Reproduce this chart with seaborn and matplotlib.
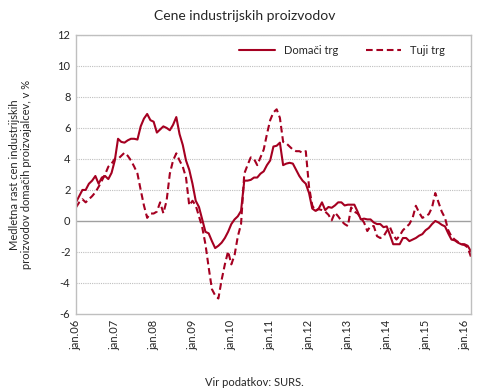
import numpy as np
import pandas as pd
import matplotlib
matplotlib.use("Agg")
import matplotlib.pyplot as plt
import seaborn as sns

# monthly y/y growth of industrial producer prices, jan.06 - mar.16
domaci = [
    1.2, 1.6, 2.0, 2.0, 2.4, 2.6, 2.9, 2.4, 2.8, 2.9, 2.7, 3.1,
    3.9, 5.3, 5.1, 5.05, 5.2, 5.3, 5.3, 5.25, 6.1, 6.6, 6.9, 6.5,
    6.4, 5.7, 5.9, 6.1, 6.0, 5.85, 6.2, 6.7, 5.6, 4.9, 3.9, 3.3,
    2.4, 1.3, 0.9, 0.1, -0.7, -0.8, -1.3, -1.75, -1.6, -1.4, -1.1, -0.7,
    -0.2, 0.1, 0.3, 0.65, 2.6, 2.6, 2.65, 2.8, 2.8, 3.05, 3.2, 3.6,
    3.9, 4.8, 4.85, 5.05, 3.6, 3.7, 3.75, 3.7, 3.3, 2.9, 2.6, 2.4,
    1.8, 0.8, 0.65, 0.8, 1.2, 0.7, 0.9, 0.85, 1.0, 1.2, 1.2, 1.0,
    1.05, 1.05, 1.05, 0.6, 0.1, 0.15, 0.1, 0.1, -0.1, -0.2, -0.2, -0.4,
    -0.35, -0.9, -1.5, -1.5, -1.5, -1.1, -1.1, -1.3, -1.2, -1.1, -0.95, -0.85,
    -0.6, -0.45, -0.2, 0.0, -0.1, -0.25, -0.35, -0.8, -1.2, -1.25, -1.4, -1.5,
    -1.5, -1.6, -1.95,
]
tuji = [
    0.87, 1.2, 1.4, 1.2, 1.4, 1.6, 1.85, 2.2, 2.6, 3.0, 3.5, 3.7,
    4.0, 4.0, 4.2, 4.4, 4.2, 3.9, 3.5, 3.05, 2.0, 1.0, 0.2, 0.48,
    0.48, 0.6, 1.2, 0.5, 1.3, 3.05, 3.9, 4.36, 3.9, 3.5, 2.8, 1.0,
    1.3, 1.0, 0.3, -0.4, -1.5, -3.0, -4.4, -4.8, -5.0, -3.8, -2.8, -1.96,
    -2.8, -2.2, -1.0, -0.2, 3.05, 3.6, 4.1, 4.0, 3.6, 4.1, 4.6, 5.6,
    6.5, 7.0, 7.2, 6.65, 5.1, 5.0, 4.8, 4.6, 4.5, 4.5, 4.4, 4.5,
    2.2, 1.0, 0.65, 0.76, 0.7, 0.6, 0.4, 0.04, 0.54, 0.3, 0.0, -0.2,
    -0.33, 0.87, 0.6, 0.48, 0.2, -0.1, -0.65, -0.33, -0.33, -0.98, -1.1, -1.0,
    -0.65, -0.4, -0.9, -1.2, -0.95, -0.6, -0.4, -0.2, 0.2, 0.98, 0.54, 0.2,
    0.3, 0.44, 0.87, 1.8, 1.2, 0.6, 0.2, -0.6, -1.0, -1.2, -1.35, -1.5,
    -1.55, -1.7, -2.3,
]
series_names = ["Domači trg", "Tuji trg"]
tick_labels = ["jan.06", "jan.07", "jan.08", "jan.09", "jan.10", "jan.11",
               "jan.12", "jan.13", "jan.14", "jan.15", "jan.16"]

RED = "#A50021"

df = pd.DataFrame({
    "mesec": list(range(len(domaci))) * 2,
    "rast": domaci + tuji,
    "trg": [series_names[0]] * len(domaci) + [series_names[1]] * len(tuji),
})

sns.set_style("white")
plt.rcParams["font.family"] = ["Lato", "DejaVu Sans"]

fig, ax = plt.subplots(figsize=(4.9, 3.92), dpi=100)
fig.subplots_adjust(left=0.155, right=0.961, top=0.911, bottom=0.199)

sns.lineplot(
    data=df, x="mesec", y="rast", hue="trg", style="trg",
    palette={series_names[0]: RED, series_names[1]: RED},
    dashes={series_names[0]: "", series_names[1]: (3.2, 1.8)},
    linewidth=1.5, ax=ax,
)

ax.set_xlim(0, len(domaci) - 1)
ax.set_ylim(-6, 12)
ax.set_yticks(np.arange(-6, 13, 2))
ax.set_yticklabels([str(v) for v in range(-6, 13, 2)], fontsize=8)
ax.set_xticks(np.arange(0, 121, 12))
ax.set_xticklabels(tick_labels, rotation=90, fontsize=8)
ax.tick_params(axis="both", length=0, pad=4)

for v in range(-4, 13, 2):
    if v == 0:
        ax.axhline(0, color="#A0A0A0", lw=1.0, zorder=0)
    else:
        ax.axhline(v, color="#BFBFBF", lw=0.8, ls=(0, (1, 1)), zorder=0)

for s in ax.spines.values():
    s.set_color("#BFBFBF")
    s.set_linewidth(1.0)

ax.set_xlabel("")
ax.set_ylabel("Medletna rast cen industrijskih\nproizvodov domačih proizvajalcev, v %",
              fontsize=8, linespacing=1.1, labelpad=18)

ax.legend(loc="upper right", ncol=2, frameon=False, fontsize=8,
          handlelength=3.2, columnspacing=2.5, bbox_to_anchor=(0.96, 1.0))

fig.suptitle("Cene industrijskih proizvodov", fontsize=10, y=0.975)
fig.text(0.52, 0.015, "Vir podatkov: SURS.", ha="center", fontsize=8)

fig.savefig("out.png", dpi=100)
